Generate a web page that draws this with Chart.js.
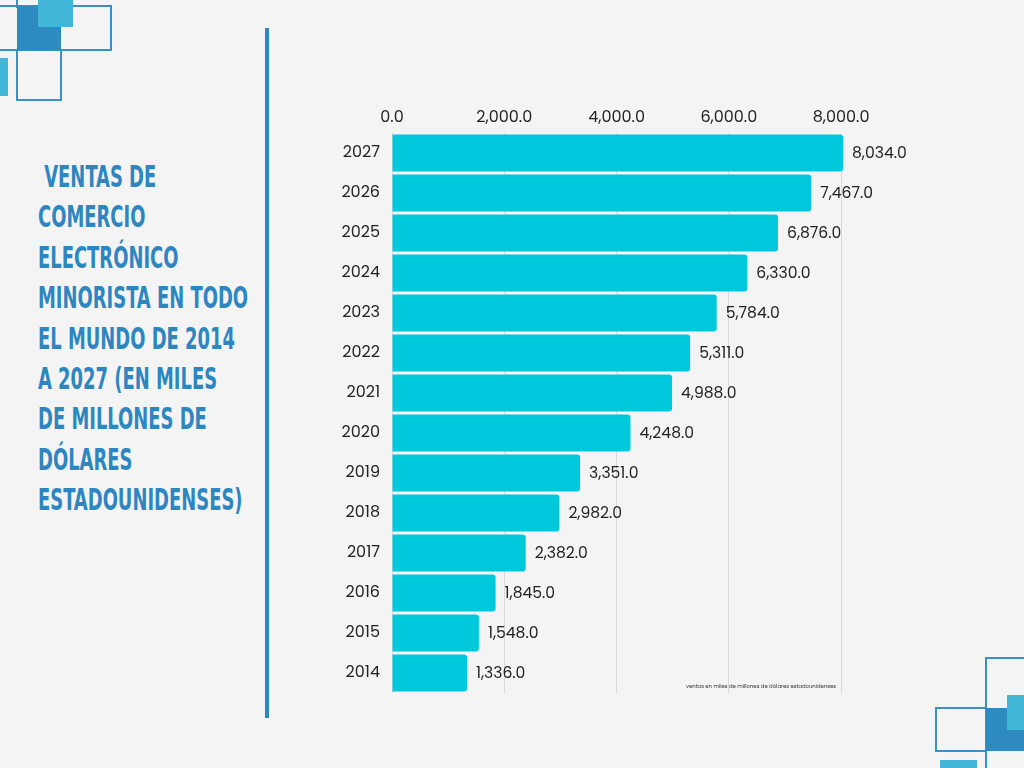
<!DOCTYPE html>
<html>
<head>
<meta charset="utf-8">
<script src="https://cdn.jsdelivr.net/npm/chart.js@4"></script>
<style>
  html, body { margin:0; padding:0; }
  body { width:1024px; height:768px; background:#f4f4f4; position:relative; overflow:hidden; font-family:"Poppins","Inter","Open Sans",sans-serif; }
  .abs { position:absolute; box-sizing:border-box; }
  .dark { background:#2e8bc0; }
  .light { background:#41b6d6; }
  .outl { border:2px solid #3a8fc4; }
  #title { position:absolute; left:38px; top:156px; color:#2e86c1; font-family:"DejaVu Sans Condensed","DejaVu Sans",sans-serif; font-weight:bold; font-size:31px; line-height:40.4px; white-space:pre; transform-origin:left top; transform:scaleX(0.643); }
  #divider { position:absolute; left:265px; top:28px; width:4px; height:690px; background:#2e86c1; }
  #wrap { position:absolute; left:300px; top:94px; width:640px; height:610px; }
  #note { position:absolute; left:686px; top:682px; font-size:5.3px; color:#333; white-space:nowrap; font-family:"Poppins","Inter","Open Sans",sans-serif; }
</style>
</head>
<body>
<!-- top-left decoration -->
<div class="abs outl" style="left:-4px;top:5px;width:116px;height:46px;"></div>
<div class="abs outl" style="left:16px;top:49px;width:46px;height:52px;"></div>
<div class="abs" style="left:16px;top:0;width:2px;height:8px;background:#3a8fc4;"></div>
<div class="abs dark" style="left:17px;top:6px;width:44px;height:44px;"></div>
<div class="abs light" style="left:38px;top:0;width:35px;height:27px;"></div>
<div class="abs light" style="left:0;top:58px;width:8px;height:38px;"></div>
<!-- bottom-right decoration -->
<div class="abs outl" style="left:985px;top:657px;width:60px;height:120px;"></div>
<div class="abs outl" style="left:935px;top:707px;width:52px;height:45px;"></div>
<div class="abs dark" style="left:986px;top:708px;width:40px;height:43px;"></div>
<div class="abs light" style="left:1007px;top:695px;width:20px;height:35px;"></div>
<div class="abs light" style="left:940px;top:760px;width:37px;height:10px;"></div>

<div id="title"> VENTAS DE
COMERCIO
ELECTRÓNICO
MINORISTA EN TODO
EL MUNDO DE 2014
A 2027 (EN MILES
DE MILLONES DE
DÓLARES
ESTADOUNIDENSES)</div>
<div id="divider"></div>
<div id="wrap"><canvas id="c"></canvas></div>
<div id="note">ventas en miles de millones de dólares estadounidenses</div>

<script>
const years = ["2027","2026","2025","2024","2023","2022","2021","2020","2019","2018","2017","2016","2015","2014"];
const sales = [8034, 7467, 6876, 6330, 5784, 5311, 4988, 4248, 3351, 2982, 2382, 1845, 1548, 1336];
const xTicks = [0, 2000, 4000, 6000, 8000];

const fmt = new Intl.NumberFormat('en-US', {minimumFractionDigits:1, maximumFractionDigits:1});
const FONT = '"Poppins","Inter","Open Sans",sans-serif';

const valueLabels = {
  id: 'valueLabels',
  afterDatasetsDraw(chart) {
    const ctx = chart.ctx;
    const meta = chart.getDatasetMeta(0);
    ctx.save();
    ctx.font = '15.6px ' + FONT;
    ctx.fillStyle = '#222';
    ctx.textAlign = 'left';
    ctx.textBaseline = 'middle';
    meta.data.forEach((bar, i) => {
      ctx.fillText(fmt.format(chart.data.datasets[0].data[i]), bar.x + 9, bar.y + 1);
    });
    ctx.restore();
  }
};

new Chart(document.getElementById('c'), {
  type: 'bar',
  data: {
    labels: years,
    datasets: [{
      data: sales,
      backgroundColor: '#00c8dc',
      borderRadius: 3,
      borderSkipped: 'start',
      barPercentage: 0.93,
      categoryPercentage: 1.0
    }]
  },
  options: {
    indexAxis: 'y',
    responsive: true,
    maintainAspectRatio: false,
    animation: false,
    layout: { padding: { top: 0, right: 97, bottom: 11, left: 0 } },
    plugins: { legend: { display: false }, tooltip: { enabled: false } },
    scales: {
      x: {
        position: 'top',
        min: 0,
        max: 8034,
        afterBuildTicks: s => { s.ticks = xTicks.map(v => ({ value: v })); },
        afterFit: s => { s.height = 39; },
        grid: { color: '#d9d9d9', lineWidth: 1, drawTicks: false },
        border: { display: false },
        ticks: { color: '#222', font: { family: FONT, size: 16 }, padding: 5, maxRotation: 0, callback: v => fmt.format(v) }
      },
      y: {
        afterFit: s => { s.width = 92; s.paddingTop = 0; s.paddingBottom = 0; },
        grid: { display: false, drawTicks: false },
        border: { display: false },
        ticks: { color: '#222', font: { family: FONT, size: 16 }, padding: 12 }
      }
    }
  },
  plugins: [valueLabels]
});
</script>
</body>
</html>
